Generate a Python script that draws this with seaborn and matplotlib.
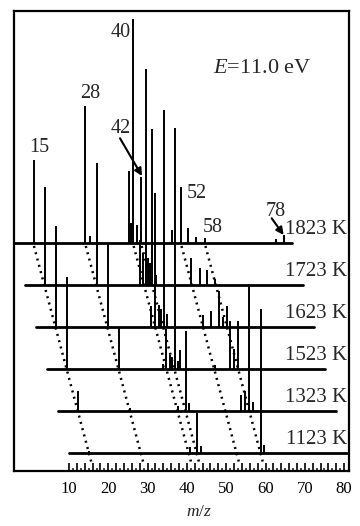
import numpy as np
import pandas as pd
import matplotlib
matplotlib.use("Agg")
import matplotlib.pyplot as plt
from matplotlib.ticker import FixedLocator, FuncFormatter
import seaborn as sns

# ---------------- data ----------------
temps = ["1123 K", "1323 K", "1523 K", "1623 K", "1723 K", "1823 K"]

mz_1123 = [15.0, 40.25, 42.2, 43.0, 58.2, 59.0]
h_1123 = [2, 6, 40, 7, 144, 8]

mz_1323 = [15.1, 28.0, 40.1, 42.0, 42.8, 55.9, 57.0, 58.0, 58.8]
h_1323 = [20, 3, 5, 80, 8, 16, 20, 126, 9]

mz_1523 = [15.0, 28.1, 39.0, 39.9, 40.75, 41.3, 42.1, 42.8, 43.25, 52.0, 55.9, 57.0, 57.9]
h_1523 = [92, 41, 5, 40, 14, 12, 241, 8, 19, 4, 44, 20, 48]

mz_1623 = [15.1, 28.1, 38.9, 39.9, 40.75, 41.4, 42.1, 42.9, 51.75, 53.9, 55.8, 56.9, 57.9, 58.75]
h_1623 = [101, 84, 21, 134, 22, 18, 217, 13, 12, 16, 36, 10, 21, 6]

mz_1723 = [15.0, 28.0, 38.9, 39.7, 40.25, 40.75, 41.25, 41.8, 42.75, 51.7, 53.75, 55.75, 57.6]
h_1723 = [98, 122, 45, 32, 216, 27, 22, 156, 10, 27, 17, 15, 6]

mz_1823 = [14.9, 27.9, 29.0, 38.8, 39.25, 39.8, 40.8, 41.9, 49.5, 51.9, 53.75, 55.75, 57.9, 75.7, 77.6]
h_1823 = [83, 137, 7, 72, 20, 224, 18, 66, 13, 56, 15, 6, 5, 4, 8]

tracked_mz = [15, 28, 40, 42, 52, 58]
peak_labels = ["15", "28", "40", "42", "52", "58", "78"]
mz_range = [10, 79.8]
tick_labels = [10, 20, 30, 40, 50, 60, 70, 80]

spectra_mz = [mz_1123, mz_1323, mz_1523, mz_1623, mz_1723, mz_1823]
spectra_h = [h_1123, h_1323, h_1523, h_1623, h_1723, h_1823]

# ---------------- waterfall geometry ----------------
s = 1.015      # spectrum stretch relative to the axis
dx = 2.80      # horizontal shift per spectrum (axis units)
dy = 42.0      # vertical offset per spectrum
y0 = 18.0      # baseline of the lowest spectrum


def xpos(k, mz):
    return 10 + (np.asarray(mz, float) - 10) * s - k * dx


def base(k):
    return y0 + k * dy


sns.set_theme(style="white")
plt.rcParams["font.family"] = ["Liberation Serif", "DejaVu Serif"]
plt.rcParams["mathtext.fontset"] = "custom"
plt.rcParams["mathtext.rm"] = "Liberation Serif"
plt.rcParams["mathtext.it"] = "Liberation Serif:italic"

fig = plt.figure(figsize=(3.6, 5.26), dpi=100)
ax = fig.add_axes([14 / 360, 55 / 526, 335 / 360, 460 / 526])

# baselines
rows = []
for k, t in enumerate(temps):
    for m in mz_range:
        rows.append({"x": float(xpos(k, m)), "y": base(k), "spec": t})
bl = pd.DataFrame(rows)
sns.lineplot(data=bl, x="x", y="y", units="spec", estimator=None, color="black",
             lw=2.0, ax=ax, legend=False)

# peaks
for k in range(len(temps)):
    xs = xpos(k, spectra_mz[k])
    ax.vlines(xs, base(k), base(k) + np.asarray(spectra_h[k]), color="black", lw=1.4)

# dotted tracking lines
top_k = len(temps) - 1
for m in tracked_mz:
    xa = float(xpos(top_k, m))
    xb = float(xpos(0, m)) + (y0 - 8) / dy * dx
    ax.plot([xa, xb], [base(top_k) - 3, 8], color="black", lw=1.8,
            linestyle=(0, (0.8, 1.8)), dash_capstyle="butt")

# temperature labels
for k, t in enumerate(temps):
    ax.text(80.7, base(k) + 13.5, t, ha="right", va="center", fontsize=15)

# peak labels
lab_fs = 14.5
ax.text(2.32, 324, peak_labels[0], ha="center", va="center", fontsize=lab_fs)
ax.text(15.34, 377, peak_labels[1], ha="center", va="center", fontsize=lab_fs)
ax.text(23.18, 438.5, peak_labels[2], ha="center", va="center", fontsize=lab_fs)
ax.text(42.49, 277, peak_labels[4], ha="center", va="center", fontsize=lab_fs)
ax.text(46.51, 243, peak_labels[5], ha="center", va="center", fontsize=lab_fs)

# 42 with arrow
p42x = float(xpos(5, mz_1823[7]))
p42y = base(5) + h_1823[7]
ax.text(23.18, 342.7, peak_labels[3], ha="center", va="center", fontsize=lab_fs)
ax.annotate("", xy=(p42x + 0.2, p42y + 1), xytext=(22.98, 332.7),
            arrowprops=dict(arrowstyle="-|>", color="black", lw=1.5,
                            mutation_scale=11, shrinkA=0, shrinkB=0))
# 78 with arrow
p78x = float(xpos(5, mz_1823[14]))
p78y = base(5) + h_1823[14]
ax.text(62.62, 260, peak_labels[6], ha="center", va="center", fontsize=lab_fs)
ax.annotate("", xy=(p78x, p78y), xytext=(61.58, 252.7),
            arrowprops=dict(arrowstyle="-|>", color="black", lw=1.5,
                            mutation_scale=11, shrinkA=0, shrinkB=0))

ax.text(59.1, 402.7, r"$E$=11.0 eV", ha="center", va="center", fontsize=16)

# axes styling
ax.set_xlim(10 - 55 / 3.93, 10 + 280 / 3.93)
ax.set_ylim(0, 460)
ax.set_yticks([])
ax.set_ylabel("")
ax.set_xlabel("")
ax.xaxis.set_major_locator(FixedLocator(np.arange(10, 81, 2)))
ax.xaxis.set_minor_locator(FixedLocator(np.arange(11, 80, 2)))
ax.xaxis.set_major_formatter(FuncFormatter(lambda v, p: f"{int(round(v))}" if int(round(v)) in tick_labels else ""))
ax.tick_params(axis="x", which="major", direction="in", length=5.5, width=1.2,
               bottom=True, top=False, labelsize=12, pad=7, colors="black")
ax.tick_params(axis="x", which="minor", direction="in", length=2.5, width=1.2,
               bottom=True, top=False)
for sp in ax.spines.values():
    sp.set_visible(True)
    sp.set_color("black")
    sp.set_linewidth(1.6)

fig.text(199 / 360, 1 - 512 / 526, r"$m/z$", ha="center", va="center", fontsize=12.5)

fig.savefig("out.png", dpi=100, facecolor="white")
